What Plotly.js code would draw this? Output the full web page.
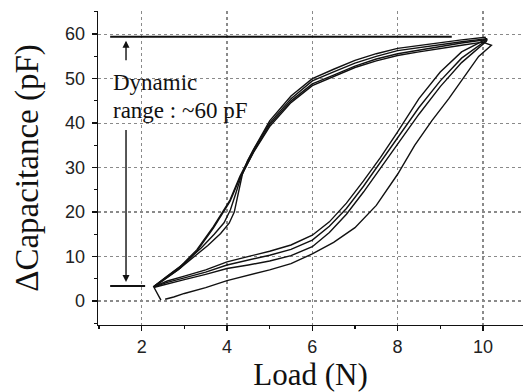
<!DOCTYPE html>
<html>
<head>
<meta charset="utf-8">
<script src="https://cdn.plot.ly/plotly-3.0.1.min.js"></script>
<style>html,body{margin:0;padding:0;background:#fff;}#chart{width:523px;height:392px;}</style>
</head>
<body>
<div id="chart"></div>
<script>
// ---- Data ----
// First loading curve (lowest, starts near 0 pF)
const loadFirstX = [2.55, 2.75, 3.0, 3.5, 4.0, 4.5, 5.0, 5.5, 6.0, 6.5, 7.0, 7.5, 8.0, 8.4, 8.8, 9.2, 9.6, 9.9, 10.2];
const loadFirstY = [0.4, 0.9, 1.7, 3.0, 4.6, 5.8, 7.0, 8.4, 10.6, 13.2, 16.5, 21.5, 28.5, 35.0, 40.5, 45.5, 51.0, 55.0, 57.5];
// Subsequent loading curves
const loadX  = [2.3, 2.6, 3.0, 3.5, 4.0, 4.5, 5.0, 5.5, 6.0, 6.4, 6.8, 7.2, 7.6, 8.0, 8.5, 9.0, 9.5, 10.08];
const loadAY = [3.3, 4.5, 5.6, 7.0, 8.8, 10.0, 11.2, 12.6, 14.8, 17.8, 22.0, 27.0, 32.3, 38.0, 45.5, 51.5, 56.0, 58.9];
const loadBY = [3.2, 4.2, 5.2, 6.5, 8.1, 9.2, 10.3, 11.6, 13.7, 16.8, 20.8, 25.8, 31.2, 36.6, 43.5, 49.5, 54.6, 58.6];
const loadCY = [3.1, 3.9, 4.8, 6.0, 7.3, 8.1, 9.0, 10.2, 12.2, 15.4, 19.5, 24.5, 29.8, 35.2, 42.0, 48.2, 53.6, 58.4];
// Unloading curves (upper branch)
const unloadAX = [10.1, 9.5, 9.0, 8.5, 8.0, 7.5, 7.0, 6.5, 6.0, 5.5, 5.0, 4.62, 4.46, 4.3, 4.07, 3.68, 3.29, 2.9, 2.27];
const unloadAY = [59.0, 58.3, 57.6, 57.0, 56.3, 55.0, 53.5, 51.5, 49.5, 45.5, 40.0, 34.0, 31.0, 28.0, 22.7, 16.7, 11.5, 7.7, 3.2];
const unloadBX = [10.2, 10.0, 9.5, 9.0, 8.5, 8.0, 7.5, 7.0, 6.5, 6.0, 5.5, 5.0, 4.62, 4.46, 4.3, 4.07, 3.68, 3.29, 2.9, 2.3];
const unloadBY = [57.5, 58.2, 57.5, 56.8, 56.0, 55.2, 54.0, 52.5, 50.5, 48.4, 44.6, 39.2, 33.4, 30.4, 27.6, 22.4, 16.4, 11.2, 7.4, 3.3];
const unloadCX = [10.05, 9.5, 9.0, 8.5, 8.0, 7.5, 7.0, 6.5, 6.0, 5.5, 5.0, 4.64, 4.48, 4.36, 4.26, 4.17, 4.05, 3.85, 3.55, 3.2, 2.85, 2.3];
const unloadCY = [59.3, 58.7, 58.1, 57.5, 56.8, 55.6, 54.1, 52.1, 50.0, 46.1, 40.5, 34.4, 31.5, 28.5, 24.0, 20.0, 17.5, 15.2, 12.5, 9.8, 7.0, 3.3];
const unloadDX = [10.1, 9.5, 9.0, 8.5, 8.0, 7.5, 7.0, 6.5, 6.0, 5.5, 5.0, 4.63, 4.47, 4.33, 4.2, 4.08, 3.93, 3.7, 3.4, 3.0, 2.6, 2.28, 2.45];
const unloadDY = [58.8, 58.0, 57.2, 56.4, 55.6, 54.4, 52.8, 50.8, 48.8, 45.0, 39.6, 33.7, 30.8, 28.0, 24.0, 20.5, 17.6, 15.0, 12.0, 8.5, 5.6, 3.2, 0.2];

// Dynamic range annotation values
const rangeTop = 59.4, rangeBottom = 3.4;
const rangeLineX0 = 1.26, rangeTopX1 = 9.27, rangeBottomX1 = 2.08;
const arrowX = 1.632;
const upArrow = [53.8, 58.5];     // tail, tip
const downArrow = [38.8, 4.3];    // tail, tip
const xTicks = [2, 4, 6, 8, 10];
const yTicks = [0, 10, 20, 30, 40, 50, 60];

// ---- Traces ----
const lineStyle = {color: '#111', width: 1.4};
function cycle(lx, ly, ux, uy) {
  return {x: lx.concat(ux), y: ly.concat(uy), mode: 'lines', line: lineStyle,
          hoverinfo: 'skip', showlegend: false, type: 'scatter'};
}
const traces = [
  cycle(loadFirstX, loadFirstY, unloadBX, unloadBY),
  cycle(loadX, loadAY, unloadAX, unloadAY),
  cycle(loadX, loadBY, unloadCX, unloadCY),
  cycle(loadX, loadCY, unloadDX, unloadDY)
];

const serif = 'Liberation Serif, Times New Roman, serif';
const sans = 'Liberation Sans, Arial, sans-serif';

const axisCommon = {
  showline: true, linecolor: '#111', linewidth: 1.3,
  ticks: 'outside', ticklen: 5, tickwidth: 1.3, tickcolor: '#111',
  showgrid: true, gridcolor: '#8a8a8a', griddash: 'dot', gridwidth: 1.2,
  zeroline: false, mirror: false, layer: 'below traces',
  tickfont: {family: sans, size: 18, color: '#222'}
};

const layout = {
  width: 523, height: 392,
  margin: {l: 98, r: 0, t: 11, b: 67},
  paper_bgcolor: '#fff', plot_bgcolor: '#fff',
  xaxis: Object.assign({}, axisCommon, {
    range: [0.975, 10.94], tickmode: 'array', tickvals: xTicks, ticklabelstandoff: 0,
    minor: {tickmode: 'linear', dtick: 1, tick0: 0, ticks: 'outside', ticklen: 3, tickwidth: 1.2, tickcolor: '#111', showgrid: false},
    title: {text: 'Load (N)', font: {family: serif, size: 31, color: '#111'}, standoff: 9}
  }),
  yaxis: Object.assign({}, axisCommon, {
    range: [-5.39, 65.2], tickmode: 'array', tickvals: yTicks, ticklabelstandoff: 3,
    minor: {tickmode: 'linear', dtick: 5, tick0: 0, ticks: 'outside', ticklen: 3, tickwidth: 1.2, tickcolor: '#111', showgrid: false},
    title: {text: 'ΔCapacitance (pF)', font: {family: serif, size: 33, color: '#111'}, standoff: 16}
  }),
  shapes: [
    {type: 'line', xref: 'x', yref: 'y', x0: rangeLineX0, x1: rangeTopX1, y0: rangeTop, y1: rangeTop, line: {color: '#111', width: 2}},
    {type: 'line', xref: 'x', yref: 'y', x0: rangeLineX0, x1: rangeBottomX1, y0: rangeBottom, y1: rangeBottom, line: {color: '#111', width: 2}}
  ],
  annotations: [
    {x: arrowX, y: upArrow[1], ax: arrowX, ay: upArrow[0], xref: 'x', yref: 'y', axref: 'x', ayref: 'y',
     text: '', showarrow: true, arrowhead: 2, arrowsize: 1, arrowwidth: 1.4, arrowcolor: '#111'},
    {x: arrowX, y: downArrow[1], ax: arrowX, ay: downArrow[0], xref: 'x', yref: 'y', axref: 'x', ayref: 'y',
     text: '', showarrow: true, arrowhead: 2, arrowsize: 1, arrowwidth: 1.4, arrowcolor: '#111'},
    {x: 1.27, y: 49.1, xref: 'x', yref: 'y', xanchor: 'left', yanchor: 'middle', showarrow: false,
     text: 'Dynamic', font: {family: serif, size: 23, color: '#111'}},
    {x: 1.27, y: 42.8, xref: 'x', yref: 'y', xanchor: 'left', yanchor: 'middle', showarrow: false,
     text: 'range : ~60 pF', font: {family: serif, size: 23, color: '#111'}}
  ]
};

Plotly.newPlot('chart', traces, layout, {staticPlot: true, displayModeBar: false});
</script>
</body>
</html>
